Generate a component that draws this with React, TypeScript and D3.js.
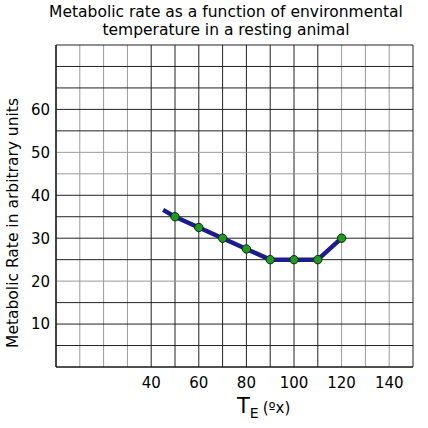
import React from "react";
import * as d3 from "d3";

// environmental temperature (x) vs metabolic rate (y)
const temps = [45, 50, 60, 70, 80, 90, 100, 110, 120];
const rates = [36.6, 35, 32.5, 30, 27.5, 25, 25, 25, 30];
// the first point is only where the line starts, it has no marker
const markerFrom = 1;

const xTickLabels = [40, 60, 80, 100, 120, 140];
const yTickLabels = [10, 20, 30, 40, 50, 60];
const grayX = [10, 20, 30, 120, 130, 140];
const grayY = [20, 45, 50];

const W = 428;
const H = 428;
const margin = { top: 45, right: 15, bottom: 61, left: 56 };

const App: React.FC = () => {
  const w = W - margin.left - margin.right;
  const h = H - margin.top - margin.bottom;

  const x = d3.scaleLinear().domain([0, 150]).range([0, w]);
  const y = d3.scaleLinear().domain([0, 75]).range([h, 0]);

  const xGrid = d3.range(0, 151, 10);
  const yGrid = d3.range(0, 76, 5);

  const line = d3
    .line<number>()
    .x((_, i) => x(temps[i]))
    .y((d) => y(d));

  const font = "DejaVu Sans, Verdana, sans-serif";

  return (
    <svg
      width={W}
      height={H}
      style={{ position: "absolute", left: 0, top: 0, background: "#fff" }}
      fontFamily={font}
    >
      <text x={226} y={17} textAnchor="middle" fontSize={15.5}>
        Metabolic rate as a function of environmental
      </text>
      <text x={226} y={35} textAnchor="middle" fontSize={15.5}>
        temperature in a resting animal
      </text>

      <g transform={`translate(${margin.left},${margin.top})`}>
        {xGrid.map((v) => (
          <line
            key={"x" + v}
            x1={x(v)}
            x2={x(v)}
            y1={0}
            y2={h}
            stroke={grayX.includes(v) ? "#9a9a9a" : "#222"}
            strokeWidth={1}
          />
        ))}
        {yGrid.map((v) => (
          <line
            key={"y" + v}
            x1={0}
            x2={w}
            y1={y(v)}
            y2={y(v)}
            stroke={grayY.includes(v) ? "#9a9a9a" : "#222"}
            strokeWidth={1}
          />
        ))}
        <line x1={0} x2={0} y1={0} y2={h} stroke="#111" strokeWidth={1.2} />
        <line x1={0} x2={w} y1={h} y2={h} stroke="#111" strokeWidth={1.2} />

        {yTickLabels.map((v) => (
          <text
            key={"yl" + v}
            x={-6}
            y={y(v)}
            dy="0.36em"
            textAnchor="end"
            fontSize={15}
          >
            {v}
          </text>
        ))}
        {xTickLabels.map((v) => (
          <text
            key={"xl" + v}
            x={x(v)}
            y={h + 21}
            textAnchor="middle"
            fontSize={15}
          >
            {v}
          </text>
        ))}

        <path
          d={line(rates) || ""}
          fill="none"
          stroke="#1c1c8a"
          strokeWidth={4.5}
          strokeLinejoin="round"
        />
        {rates.slice(markerFrom).map((d, i) => (
          <circle
            key={"m" + i}
            cx={x(temps[i + markerFrom])}
            cy={y(d)}
            r={4.2}
            fill="#1f9a1f"
            stroke="#0d2a0d"
            strokeWidth={1}
          />
        ))}
      </g>

      <text
        transform={`translate(18,223) rotate(-90)`}
        textAnchor="middle"
        fontSize={15.5}
      >
        Metabolic Rate in arbitrary units
      </text>

      <text x={237} y={413} fontSize={21}>
        T
        <tspan fontSize={14} dy={5}>
          E
        </tspan>
        <tspan fontSize={15} dy={-5} dx={4}>
          (ºx)
        </tspan>
      </text>
    </svg>
  );
};

export default App;
